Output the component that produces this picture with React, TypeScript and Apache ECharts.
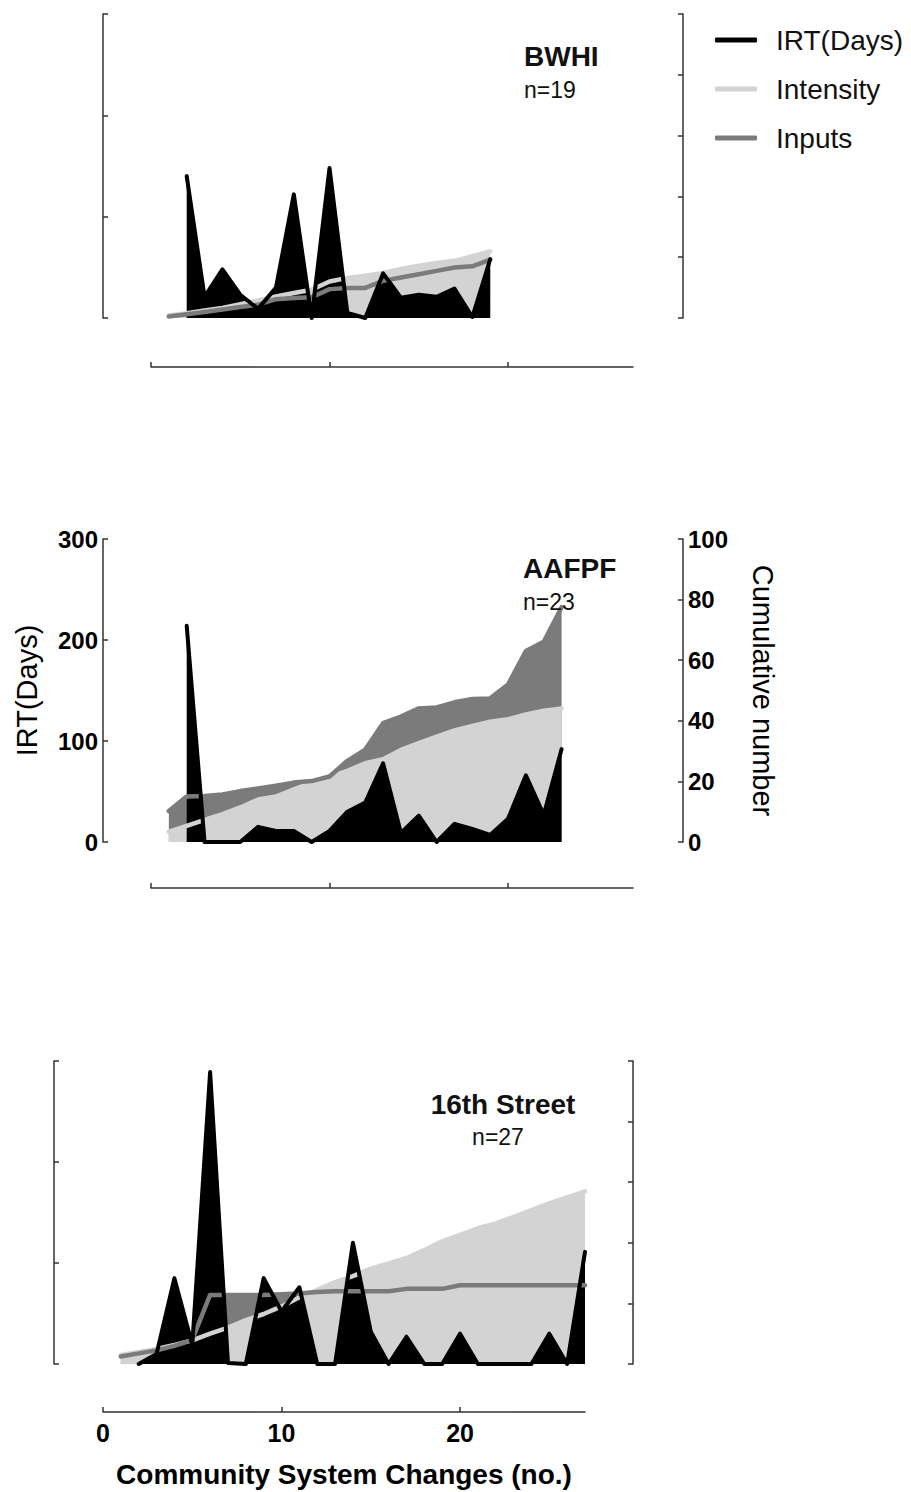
import React, { useEffect, useRef } from "react";
import * as echarts from "echarts";

// ---------- data (x = community system change number) ----------
// BWHI, n = 19
const bwhiIRT = [140, 21, 48, 23, 9, 30, 122, 0, 148, 5, 0, 44, 20, 23, 21, 29, 1, 58]; // x = 2..19
const bwhiIntensity = [0.8, 1.6, 2.5, 3.3, 4.5, 5.8, 7.1, 8.2, 9.3, 12, 13.2, 13.9, 14.8, 16.1, 17.2, 18.1, 18.8, 20.3, 21.9]; // x = 1..19
const bwhiInputs = [0.5, 1.2, 2, 2.8, 3.6, 4.4, 6.2, 6.6, 6.8, 9.5, 9.9, 9.9, 12.2, 13.3, 14.4, 15.5, 16.6, 17, 19.2]; // x = 1..19

// AAFPF, n = 23
const aafpfIRT = [214, 0, 0, 0, 15, 11, 11, 0, 11, 30, 39, 78, 9, 26, 0, 18, 13, 7, 23, 66, 27, 92]; // x = 2..23
const aafpfIntensity = [3.4, 5.3, 7.3, 9.2, 11.4, 14, 15, 17.4, 19.6, 21.6, 23.5, 26, 27.3, 30.4, 32.6, 34.8, 36.8, 38.3, 39.7, 40.5, 42.1, 43.3, 44.1]; // x = 1..23
const aafpfInputs = [10.2, 15, 15.2, 15.7, 16.8, 17.7, 18.6, 19.6, 20.1, 21.6, 26.8, 30.5, 39.2, 41.4, 44.1, 44.4, 46.1, 47.2, 47.4, 52, 63, 66.1, 77.5]; // x = 1..23

// 16th Street, n = 27
const streetIRT = [0, 10, 85, 19, 289, 1, 0, 85, 52, 76, 0, 0, 120, 32, 0, 27, 0, 0, 30, 0, 0, 0, 0, 30, 0, 111]; // x = 2..27
const streetIntensity = [3, 4, 5, 6.3, 7.8, 10, 12, 14.5, 16.5, 19, 22, 24.5, 27, 29, 31.5, 33.2, 35, 37.6, 40.5, 42.6, 44.8, 46.4, 48.6, 50.8, 53, 55, 57]; // x = 1..27
const streetInputs = [2.5, 3.5, 4.5, 6, 8, 22.8, 22.8, 22.8, 22.8, 23, 23.3, 23.8, 24, 24, 24, 24, 24.8, 24.8, 24.8, 26, 26, 26, 26, 26, 26, 26, 26]; // x = 1..27

const panelNames = ["BWHI", "AAFPF", "16th Street"];
const panelN = ["n=19", "n=23", "n=27"];
const xTicks = [0, 10, 20];
const legendNames = ["IRT(Days)", "Intensity", "Inputs"];

const FONT = "'Liberation Sans', Arial, Helvetica, sans-serif";
const BLACK = "#000000";
const LIGHT = "#d3d3d3";
const DARK = "#7b7b7b";
const AXIS = "#333333";

function pts(values: number[], start: number) {
  return values.map((v, i) => [start + i, v]);
}

export default function App() {
  const ref = useRef<HTMLDivElement>(null);

  useEffect(() => {
    document.body.style.margin = "0";
    if (!ref.current) return;
    const chart = echarts.init(ref.current, undefined, { renderer: "svg" });

    const panels = [
      { irt: bwhiIRT, intensity: bwhiIntensity, inputs: bwhiInputs },
      { irt: aafpfIRT, intensity: aafpfIntensity, inputs: aafpfInputs },
      { irt: streetIRT, intensity: streetIntensity, inputs: streetInputs },
    ];

    const grids = [
      { left: 151, top: 14, width: 482, height: 304 },
      { left: 151, top: 539, width: 482, height: 303 },
      { left: 103, top: 1061, width: 482, height: 303 },
    ];
    const xOffsets = [49, 46, 48];
    const leftOffsets = [48, 48, 49];
    const rightOffsets = [50, 50, 48];

    const axisLine = { show: true, onZero: false, lineStyle: { color: AXIS, width: 1.5 } };
    const tickStyle = { color: AXIS, width: 1.5 };

    const xAxis = grids.map((_, i) => ({
      gridIndex: i,
      type: "value",
      min: 0,
      max: 27,
      interval: 10,
      position: "bottom",
      offset: xOffsets[i],
      axisLine,
      axisTick: { show: true, inside: true, length: 5, customValues: xTicks, lineStyle: tickStyle },
      axisLabel: {
        show: i === 2,
        customValues: xTicks,
        fontSize: 25,
        fontWeight: "bold",
        color: "#000",
        fontFamily: FONT,
        margin: 8,
      },
      splitLine: { show: false },
      name: i === 2 ? "Community System Changes (no.)" : "",
      nameLocation: "middle",
      nameGap: 48,
      nameTextStyle: { fontSize: 28, fontWeight: "bold", color: "#000", fontFamily: FONT },
    }));

    const yAxis: any[] = [];
    grids.forEach((_, i) => {
      yAxis.push({
        gridIndex: i,
        type: "value",
        min: 0,
        max: 300,
        interval: 100,
        position: "left",
        offset: leftOffsets[i],
        axisLine,
        axisTick: { show: true, inside: true, length: 5, lineStyle: tickStyle },
        axisLabel: {
          show: i === 1,
          fontSize: 24,
          fontWeight: "bold",
          color: "#000",
          fontFamily: FONT,
          margin: 5,
        },
        splitLine: { show: false },
        name: i === 1 ? "IRT(Days)" : "",
        nameLocation: "middle",
        nameGap: 62,
        nameTextStyle: { fontSize: 29, color: "#000", fontFamily: FONT },
      });
      yAxis.push({
        gridIndex: i,
        type: "value",
        min: 0,
        max: 100,
        interval: 20,
        position: "right",
        offset: rightOffsets[i],
        axisLine,
        axisTick: { show: true, inside: true, length: 5, lineStyle: tickStyle },
        axisLabel: {
          show: i === 1,
          fontSize: 24,
          fontWeight: "bold",
          color: "#000",
          fontFamily: FONT,
          margin: 5,
        },
        splitLine: { show: false },
        name: i === 1 ? "Cumulative number" : "",
        nameLocation: "middle",
        nameRotate: -90,
        nameGap: 65,
        nameTextStyle: { fontSize: 29, color: "#000", fontFamily: FONT },
      });
    });

    const series: any[] = [];
    panels.forEach((p, i) => {
      const common = { type: "line", xAxisIndex: i, symbol: "none", showSymbol: false, clip: false, silent: true, smooth: false };
      series.push({
        ...common,
        name: "Inputs area",
        yAxisIndex: 2 * i + 1,
        data: pts(p.inputs, 1),
        lineStyle: { width: 0, opacity: 0 },
        itemStyle: { color: DARK },
        areaStyle: { color: DARK, opacity: 1 },
        z: 1,
      });
      series.push({
        ...common,
        name: "Intensity area",
        yAxisIndex: 2 * i + 1,
        data: pts(p.intensity, 1),
        lineStyle: { width: 0, opacity: 0 },
        itemStyle: { color: LIGHT },
        areaStyle: { color: LIGHT, opacity: 1 },
        z: 2,
      });
      series.push({
        ...common,
        name: "IRT area",
        yAxisIndex: 2 * i,
        data: pts(p.irt, 2),
        lineStyle: { width: 0, opacity: 0 },
        itemStyle: { color: BLACK },
        areaStyle: { color: BLACK, opacity: 1 },
        z: 3,
      });
      series.push({
        ...common,
        name: "Intensity",
        yAxisIndex: 2 * i + 1,
        data: pts(p.intensity, 1),
        itemStyle: { color: LIGHT },
        lineStyle: { color: LIGHT, width: 4.5, join: "round", cap: "round" },
        z: 4,
      });
      series.push({
        ...common,
        name: "Inputs",
        yAxisIndex: 2 * i + 1,
        data: pts(p.inputs, 1),
        itemStyle: { color: DARK },
        lineStyle: { color: DARK, width: 4.5, join: "round", cap: "round" },
        z: 5,
      });
      series.push({
        ...common,
        name: "IRT(Days)",
        yAxisIndex: 2 * i,
        data: pts(p.irt, 2),
        itemStyle: { color: BLACK },
        lineStyle: { color: BLACK, width: 4, join: "round", cap: "round" },
        z: 6,
      });
    });

    const titleText = (text: string, x: number, y: number, size: number, bold: boolean, align: string) => ({
      type: "text",
      x,
      y,
      z: 100,
      style: {
        text,
        fill: "#111",
        fontSize: size,
        fontWeight: bold ? "bold" : "normal",
        fontFamily: FONT,
        textAlign: align,
        align,
        textVerticalAlign: "middle",
        verticalAlign: "middle",
      },
    });

    const option: any = {
      animation: false,
      backgroundColor: "#ffffff",
      grid: grids.map((g) => ({ ...g, containLabel: false })),
      xAxis,
      yAxis,
      series,
      legend: {
        data: legendNames,
        orient: "vertical",
        left: 715,
        top: 26,
        padding: 0,
        icon: "roundRect",
        itemWidth: 42,
        itemHeight: 5,
        itemGap: 21,
        selectedMode: false,
        itemStyle: { borderWidth: 0 },
        textStyle: { fontSize: 28, color: "#111", fontFamily: FONT, lineHeight: 27, padding: [0, 0, 0, 14] },
      },
      graphic: [
        titleText(panelNames[0], 524, 56, 28, true, "left"),
        titleText(panelN[0], 524, 90, 23, false, "left"),
        titleText(panelNames[1], 523, 568, 28, true, "left"),
        titleText(panelN[1], 523, 602, 23, false, "left"),
        titleText(panelNames[2], 503, 1104, 28, true, "center"),
        titleText(panelN[2], 498, 1137, 23, false, "center"),
      ],
    };

    chart.setOption(option);
    return () => chart.dispose();
  }, []);

  return <div ref={ref} style={{ position: "absolute", left: 0, top: 0, width: 911, height: 1492 }} />;
}
